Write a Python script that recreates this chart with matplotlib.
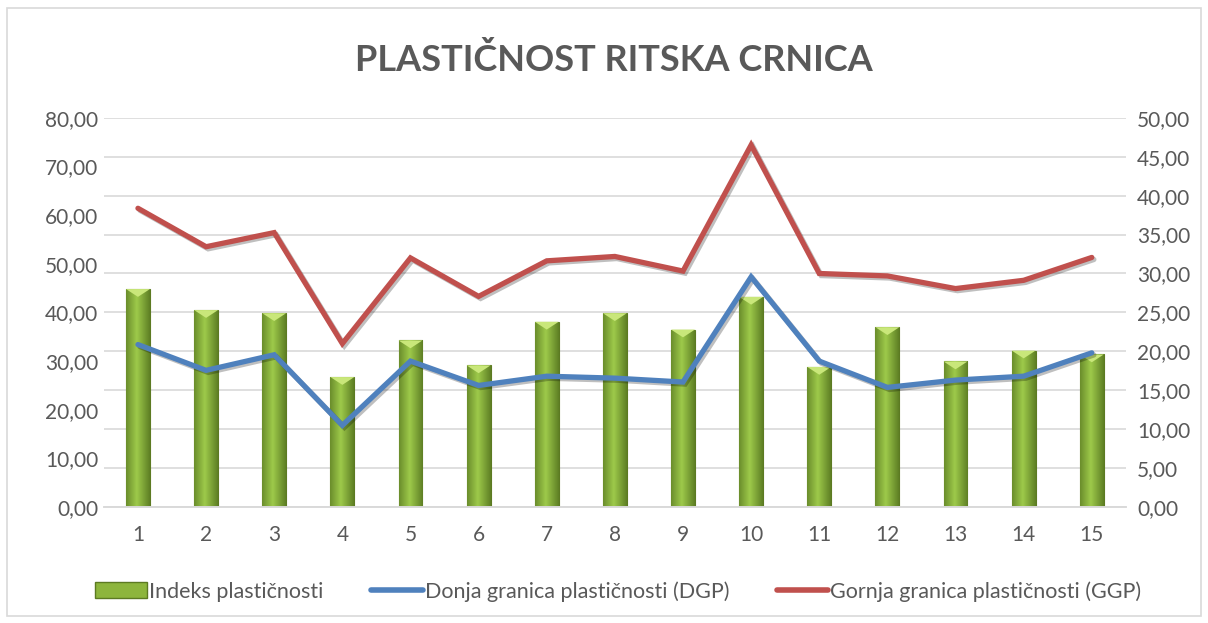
import numpy as np
import matplotlib
matplotlib.use("Agg")
import matplotlib.pyplot as plt
import matplotlib.patheffects as pe
from matplotlib.patches import Rectangle
from matplotlib.lines import Line2D

# podaci
uzorci = list(range(1, 16))
dgp = [33.4, 28.1, 31.3, 16.8, 30.0, 25.0, 26.9, 26.5, 25.7, 47.3, 30.0, 24.6, 26.1, 26.9, 31.7]
ggp = [61.4, 53.5, 56.4, 33.6, 51.2, 43.3, 50.6, 51.5, 48.5, 74.4, 48.0, 47.5, 44.9, 46.6, 51.3]
indeks = [28.0, 25.3, 24.9, 16.7, 21.4, 18.2, 23.8, 24.9, 22.8, 27.0, 18.0, 23.1, 18.7, 20.1, 19.6]
left_ticks = [0, 10, 20, 30, 40, 50, 60, 70, 80]
right_ticks = [0, 5, 10, 15, 20, 25, 30, 35, 40, 45, 50]

plt.rcParams['font.family'] = ['Lato', 'DejaVu Sans']
txt = '#595959'

fig = plt.figure(figsize=(12.08, 6.23), dpi=100)
ax = fig.add_axes([0.086, 0.186, 0.846, 0.625])
ax2 = ax.twinx()

# stupci (desna os) s gradijentom
x = np.arange(len(uzorci))
bars = ax2.bar(x, indeks, width=0.35, color='#8DB53C', edgecolor='#5C7A22',
               linewidth=0.8, zorder=2)
grad = np.linspace(0, 1, 64)
grad = 1 - np.abs(grad - 0.45) * 1.6
grad = np.clip(grad, 0, 1)[None, :]
cmap = matplotlib.colors.LinearSegmentedColormap.from_list('g', ['#5F8025', '#9DC94A'])
for b in bars:
    im = ax2.imshow(grad, cmap=cmap, aspect='auto', zorder=2.5,
                    extent=[b.get_x(), b.get_x() + b.get_width(), 0, b.get_height()])
    im.set_clip_path(b)
    # svijetli vrh
    ax2.fill([b.get_x(), b.get_x() + b.get_width(), b.get_x() + b.get_width() / 2],
             [b.get_height(), b.get_height(), b.get_height() - 1.0],
             color='#C9E77A', zorder=2.6, lw=0)

ax2.set_ylim(0, 50)
ax2.set_yticks(right_ticks)
ax2.set_yticklabels([f'{v:.2f}'.replace('.', ',') for v in right_ticks])
ax2.grid(axis='y', color='#D9D9D9', linewidth=1.2, zorder=0)
ax2.set_axisbelow(True)

# linije (lijeva os)
shadow = [pe.SimpleLineShadow(offset=(1.5, -1.5), alpha=0.25), pe.Normal()]
ax.plot(x, dgp, color='#4F81BD', linewidth=3.8, solid_capstyle='round',
        solid_joinstyle='miter', path_effects=shadow, zorder=3)
ax.plot(x, ggp, color='#C0504D', linewidth=3.8, solid_capstyle='round',
        solid_joinstyle='miter', path_effects=shadow, zorder=3)
ax.set_ylim(0, 80)
ax.set_yticks(left_ticks)
ax.set_yticklabels([f'{v:.2f}'.replace('.', ',') for v in left_ticks])
ax.set_xlim(-0.5, len(uzorci) - 0.5)
ax.set_xticks(x)
ax.set_xticklabels([str(u) for u in uzorci])

ax.set_zorder(ax2.get_zorder() + 1)
ax.patch.set_visible(False)

for a in (ax, ax2):
    for s in ['top', 'left', 'right']:
        a.spines[s].set_visible(False)
    a.spines['bottom'].set_color('#D9D9D9')
    a.spines['bottom'].set_linewidth(1.2)
    a.tick_params(length=0, labelsize=15, colors=txt, pad=8)
ax.tick_params(axis='x', pad=13)
ax.tick_params(axis='y', pad=4)

fig.text(0.508, 0.903, 'PLASTIČNOST RITSKA CRNICA', ha='center', va='center',
         fontsize=26, fontweight='bold', color=txt)

handles = [Rectangle((0, 0), 1, 1, facecolor='#8DB53C', edgecolor='#5C7A22'),
           Line2D([], [], color='#4F81BD', linewidth=4, solid_capstyle='round'),
           Line2D([], [], color='#C0504D', linewidth=4, solid_capstyle='round')]
labels = ['Indeks plastičnosti', 'Donja granica plastičnosti (DGP)',
          'Gornja granica plastičnosti (GGP)']
leg = fig.legend(handles, labels, loc='center', bbox_to_anchor=(0.512, 0.051),
                 ncol=3, frameon=False, fontsize=15.5, handlelength=2.4,
                 handletextpad=0.1, columnspacing=2.2)
for t in leg.get_texts():
    t.set_color(txt)

# okvir grafikona
fig.patches.append(Rectangle((0.006, 0.012), 0.988, 0.975, transform=fig.transFigure,
                             fill=False, edgecolor='#D9D9D9', linewidth=1.2))

fig.savefig('out.png', dpi=100)
